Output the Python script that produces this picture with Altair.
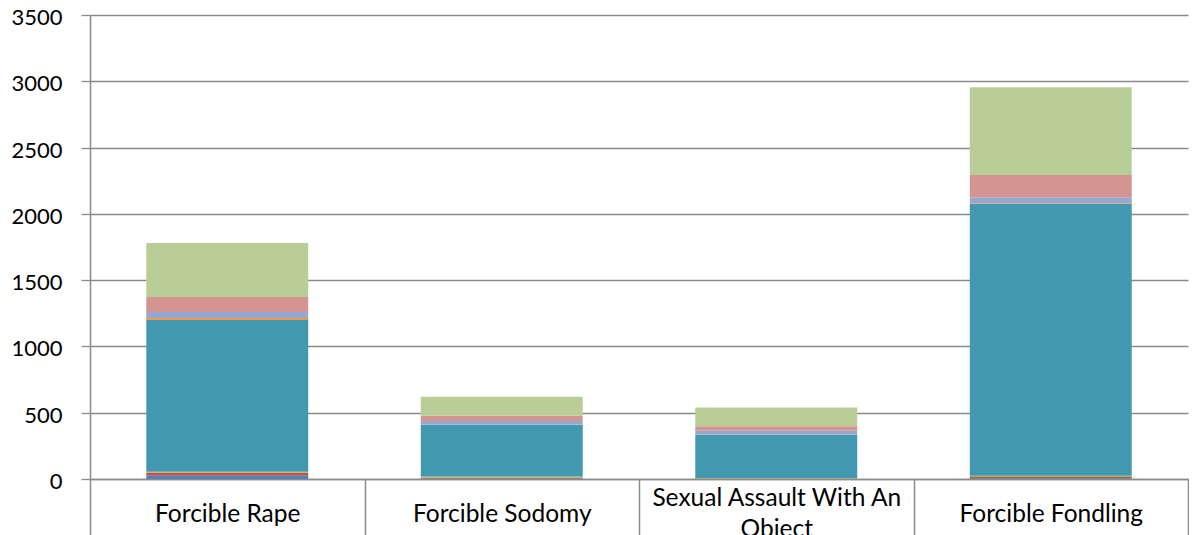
import altair as alt
import pandas as pd

categories = ["Forcible Rape", "Forcible Sodomy", "Sexual Assault With An Object", "Forcible Fondling"]
series = ["Series 1", "Series 2", "Series 3", "Series 4", "Series 5", "Series 6", "Series 7", "Series 8"]
colors = ["#4F81BD", "#C0504D", "#9BBB59", "#4198AF", "#F79646", "#95A9D0", "#D49491", "#B9CE96"]

series_1 = [25, 4, 2, 5]
series_2 = [22, 6, 2, 10]
series_3 = [8, 8, 3, 10]
series_4 = [1145, 391, 327, 2050]
series_5 = [15, 3, 2, 5]
series_6 = [45, 25, 28, 46]
series_7 = [112, 40, 33, 168]
series_8 = [408, 143, 143, 661]

y_ticks = [0, 500, 1000, 1500, 2000, 2500, 3000, 3500]

all_values = [series_1, series_2, series_3, series_4, series_5, series_6, series_7, series_8]
rows = []
for si, (name, vals) in enumerate(zip(series, all_values)):
    for cat, v in zip(categories, vals):
        rows.append({"category": cat, "series": name, "order": si, "value": v})
df = pd.DataFrame(rows)

FONT = "Lato"
GRID = "#8A8A8A"

label_expr = ("datum.label == 'Sexual Assault With An Object' ? "
              "['Sexual Assault With An', 'Object'] : datum.label")

chart = alt.Chart(df).mark_bar(width=alt.RelativeBandSize(0.59)).encode(
    x=alt.X("category:N", sort=categories,
            scale=alt.Scale(paddingInner=0, paddingOuter=0),
            axis=alt.Axis(title=None, labelAngle=0, tickBand="extent", tickSize=58,
                          tickColor=GRID, tickWidth=1.5, domainColor=GRID, domainWidth=1.5,
                          labelPadding={"condition": {"test": "datum.value == 'Sexual Assault With An Object'",
                                                      "value": -39},
                                        "value": -23},
                          labelBaseline="middle", labelFont=FONT,
                          labelFontSize=24.5, labelColor="#000000", labelLineHeight=31,
                          labelExpr=label_expr, labelLimit=400)),
    y=alt.Y("sum(value):Q", stack="zero",
            scale=alt.Scale(domain=[0, 3500], nice=False),
            axis=alt.Axis(title=None, values=y_ticks, format="d", tickSize=9, tickColor=GRID,
                          tickWidth=1.3, domainColor=GRID, domainWidth=1.5, gridColor=GRID,
                          gridWidth=1.3, labelPadding=19, labelFont=FONT, labelFontSize=22,
                          labelOffset=2.5, labelColor="#000000")),
    color=alt.Color("series:N", scale=alt.Scale(domain=series, range=colors), legend=None),
    order=alt.Order("order:Q", sort="ascending"),
).properties(
    width=1098, height=464,
    autosize=alt.AutoSizeParams(type="none"),
    padding={"left": 82, "top": 7, "right": 1, "bottom": 56},
).configure_view(stroke=None).configure_axis(grid=True).configure_axisX(grid=False)

chart.save("out.html", embed_options={"renderer": "svg", "actions": False})
